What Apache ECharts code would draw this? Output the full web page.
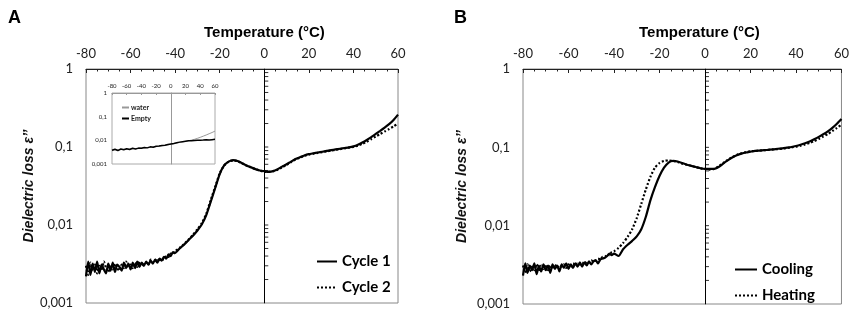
<!DOCTYPE html>
<html>
<head>
<meta charset="utf-8">
<script src="https://cdn.jsdelivr.net/npm/echarts@6/dist/echarts.min.js"></script>
<style>
  html, body { margin: 0; padding: 0; background: #fff; }
  #chart { width: 852px; height: 314px; }
</style>
</head>
<body>
<div id="chart"></div>
<script>
// temperature grid (°C) used by the main curves
var temps = [-80,-79,-78,-77,-76,-75,-74,-73,-72,-71,-70,-69,-68,-67,-66,-65,-64,-63,-62,-61,
  -60,-59,-58,-57,-56,-55,-54,-53,-52,-51,-50,-49,-48,-47,-46,-45,-44,-43,-42,-41,
  -40,-38,-36,-34,-32,-30,-28,-26,-24,-22,-20,-18,-16,-14,-12,-10,-8,-6,-4,-2,
  0,2,4,6,8,10,12,14,16,18,20,22,24,26,28,30,32,34,36,38,40,42,44,46,48,50,52,54,56,58,60];

// panel A
var cycle1 = [0.0022,0.0034,0.0023,0.0032,0.0025,0.0034,0.0024,0.0031,0.0027,0.0024,0.0032,0.0026,0.0033,0.0025,0.0031,0.0029,0.0026,0.0033,0.0028,0.0032,
  0.0027,0.0033,0.0028,0.0034,0.0029,0.0033,0.0030,0.0034,0.0031,0.0035,0.0032,0.0036,0.0033,0.0037,0.0035,0.0039,0.0037,0.0042,0.0040,0.0045,
  0.0044,0.0050,0.0056,0.0064,0.0073,0.0085,0.0102,0.0135,0.020,0.030,0.045,0.058,0.065,0.068,0.066,0.062,0.058,0.055,0.052,0.050,
  0.049,0.048,0.049,0.052,0.056,0.060,0.065,0.070,0.074,0.078,0.081,0.083,0.085,0.087,0.089,0.091,0.093,0.095,0.097,0.099,0.102,0.107,0.114,0.123,0.134,0.147,0.161,0.177,0.196,0.222,0.260];
var cycle2 = [0.0030,0.0023,0.0033,0.0026,0.0031,0.0024,0.0030,0.0026,0.0034,0.0028,0.0025,0.0031,0.0027,0.0032,0.0028,0.0026,0.0031,0.0028,0.0034,0.0029,
  0.0031,0.0028,0.0033,0.0029,0.0034,0.0030,0.0032,0.0033,0.0031,0.0036,0.0033,0.0035,0.0037,0.0034,0.0038,0.0036,0.0040,0.0039,0.0043,0.0042,
  0.0046,0.0051,0.0057,0.0065,0.0075,0.0088,0.0106,0.0140,0.021,0.031,0.046,0.058,0.065,0.067,0.066,0.062,0.058,0.055,0.052,0.050,
  0.048,0.048,0.049,0.051,0.055,0.059,0.064,0.069,0.073,0.077,0.080,0.082,0.084,0.086,0.088,0.090,0.092,0.094,0.096,0.098,0.100,0.104,0.110,0.117,0.126,0.136,0.147,0.158,0.170,0.184,0.200];

// panel B
var cooling = [0.0023,0.0033,0.0025,0.0031,0.0027,0.0033,0.0024,0.0031,0.0026,0.0032,0.0027,0.0031,0.0025,0.0032,0.0028,0.0031,0.0026,0.0032,0.0029,0.0033,
  0.0028,0.0032,0.0029,0.0033,0.0030,0.0034,0.0030,0.0034,0.0031,0.0035,0.0032,0.0035,0.0036,0.0033,0.0037,0.0038,0.0039,0.0041,0.0044,0.0042,
  0.0044,0.0041,0.0050,0.0057,0.0064,0.0073,0.0090,0.0130,0.021,0.031,0.043,0.055,0.064,0.067,0.066,0.063,0.060,0.058,0.056,0.054,
  0.053,0.053,0.053,0.056,0.062,0.068,0.074,0.079,0.083,0.086,0.088,0.090,0.091,0.092,0.093,0.094,0.096,0.097,0.099,0.101,0.104,0.108,0.113,0.119,0.127,0.136,0.147,0.160,0.177,0.200,0.230];
var heating = [0.0031,0.0025,0.0032,0.0026,0.0030,0.0027,0.0032,0.0026,0.0031,0.0028,0.0032,0.0027,0.0031,0.0028,0.0032,0.0029,0.0031,0.0030,0.0032,0.0029,
  0.0032,0.0030,0.0033,0.0031,0.0033,0.0032,0.0034,0.0032,0.0035,0.0034,0.0036,0.0035,0.0036,0.0038,0.0037,0.0040,0.0040,0.0043,0.0042,0.0046,
  0.0047,0.0052,0.0060,0.0072,0.0090,0.0125,0.019,0.029,0.042,0.055,0.063,0.067,0.068,0.067,0.065,0.062,0.060,0.058,0.056,0.054,
  0.053,0.052,0.053,0.057,0.063,0.069,0.075,0.080,0.084,0.087,0.089,0.090,0.091,0.092,0.093,0.094,0.095,0.096,0.098,0.100,0.102,0.105,0.109,0.114,0.120,0.128,0.137,0.148,0.161,0.177,0.195];

// inset (panel A)
var insetTemps = [-80,-76,-72,-68,-64,-60,-56,-52,-48,-44,-40,-36,-32,-28,-24,-20,-16,-12,-8,-4,0,4,8,12,16,20,24,28,32,36,40,44,48,52,56,60];
var insetEmpty = [0.0038,0.0042,0.0037,0.0043,0.0040,0.0044,0.0041,0.0046,0.0043,0.0047,0.0046,0.0050,0.0048,0.0053,0.0051,0.0056,0.0057,0.0060,0.0062,0.0066,
  0.0070,0.0074,0.0079,0.0084,0.0088,0.0092,0.0095,0.0097,0.0099,0.0101,0.0102,0.0103,0.0105,0.0104,0.0107,0.0110];
var insetWater = [0.0036,0.0040,0.0039,0.0041,0.0042,0.0042,0.0043,0.0044,0.0045,0.0045,0.0047,0.0048,0.0050,0.0051,0.0053,0.0054,0.0056,0.0059,0.0061,0.0064,
  0.0068,0.0072,0.0077,0.0082,0.0087,0.0091,0.0096,0.0102,0.0110,0.0121,0.0134,0.0150,0.0168,0.0190,0.0214,0.0245];

var xTicks = [-80, -60, -40, -20, 0, 20, 40, 60];
var yTickLabels = {'1': '1', '0.1': '0,1', '0.01': '0,01', '0.001': '0,001'};
var zeroTickVals = [0.002,0.003,0.004,0.005,0.006,0.007,0.008,0.009,0.01,
  0.02,0.03,0.04,0.05,0.06,0.07,0.08,0.09,0.1,0.2,0.3,0.4,0.5,0.6,0.7,0.8,0.9];

function pairs(xs, ys) {
  return xs.map(function (x, i) { return [x, ys[i]]; });
}
function yFmt(v) {
  var k = String(Math.round(v * 1000) / 1000);
  return yTickLabels[k] !== undefined ? yTickLabels[k] : '';
}

var FONT = 'Lato';

function xAxisOf(gi, small) {
  return {
    gridIndex: gi, type: 'value', position: 'top',
    min: -80, max: 60, interval: 20,
    axisLine: { lineStyle: { color: small ? '#999' : '#222', width: 1 } },
    axisTick: { show: true, inside: true, length: small ? 2 : 4, lineStyle: { color: small ? '#999' : '#222' } },
    minorTick: { show: true, splitNumber: 4, length: small ? 1 : 2.5, lineStyle: { color: small ? '#999' : '#222' } },
    splitLine: { show: false },
    axisLabel: {
      margin: small ? 4 : 9, fontFamily: FONT, fontSize: small ? 6 : 13, color: '#222',
      formatter: function (v) { return xTicks.indexOf(v) >= 0 ? String(v) : ''; }
    }
  };
}
function yAxisOf(gi, small) {
  return {
    gridIndex: gi, type: 'log', logBase: 10, min: 0.001, max: 1,
    axisLine: { show: true, lineStyle: { color: small ? '#999' : '#444', width: 1 } },
    axisTick: { show: false },
    splitLine: { show: false },
    axisLabel: {
      margin: small ? 5 : 13, fontFamily: FONT, fontSize: small ? 6 : 13, color: '#222',
      formatter: yFmt
    }
  };
}

function zeroTicks(gi) {
  return {
    type: 'custom', xAxisIndex: gi, yAxisIndex: gi, silent: true,
    data: zeroTickVals.map(function (v) { return [0, v]; }),
    renderItem: function (params, api) {
      var p = api.coord([0, api.value(1)]);
      return { type: 'line', shape: { x1: p[0], y1: p[1], x2: p[0] + 4, y2: p[1] },
        style: { stroke: '#333', lineWidth: 1 } };
    },
    z: 1
  };
}
function zeroLine(color, type) {
  return {
    silent: true, symbol: 'none', label: { show: false },
    lineStyle: { color: color, width: 1, type: type },
    data: [{ xAxis: 0 }]
  };
}

function curve(name, gi, data, dotted) {
  return {
    name: name, type: 'line', xAxisIndex: gi, yAxisIndex: gi,
    data: data, symbol: 'none', smooth: 0.2,
    lineStyle: { color: '#000', width: 2.2, type: dotted ? [2, 2] : 'solid' },
    itemStyle: { color: '#000' }
  };
}

var legendBase = {
  orient: 'vertical', itemWidth: 20, itemHeight: 14, itemGap: 11,
  itemStyle: { opacity: 0 },
  textStyle: { fontFamily: FONT, fontWeight: 'bold', fontSize: 15, color: '#000' }
};

var chart = echarts.init(document.getElementById('chart'), null, { renderer: 'canvas' });

chart.setOption({
  animation: false,
  backgroundColor: '#fff',
  grid: [
    { left: 86, top: 69, width: 312, height: 234, show: true, borderColor: '#888', borderWidth: 1 },
    { left: 523, top: 69, width: 324, height: 235, show: true, borderColor: '#888', borderWidth: 1 },
    { left: 112, top: 93, width: 103, height: 71, show: true, borderColor: '#aaa', borderWidth: 1, backgroundColor: '#fff', z: 5 }
  ],
  xAxis: [xAxisOf(0, false), xAxisOf(1, false), Object.assign(xAxisOf(2, true), { z: 6 })],
  yAxis: [
    Object.assign(yAxisOf(0, false), {
      name: 'Dielectric loss ε’’', nameLocation: 'middle', nameRotate: 90, nameGap: 47,
      nameTextStyle: { fontFamily: 'Liberation Sans', fontWeight: 'bold', fontStyle: 'italic', fontSize: 14, color: '#111' }
    }),
    Object.assign(yAxisOf(1, false), {
      name: 'Dielectric loss ε’’', nameLocation: 'middle', nameRotate: 90, nameGap: 54,
      nameTextStyle: { fontFamily: 'Liberation Sans', fontWeight: 'bold', fontStyle: 'italic', fontSize: 14, color: '#111' }
    }),
    Object.assign(yAxisOf(2, true), { z: 6 })
  ],
  legend: [
    Object.assign({}, legendBase, { data: ['Cycle 1', 'Cycle 2'], left: 311, top: 249 }),
    Object.assign({}, legendBase, { data: ['Cooling', 'Heating'], left: 729, top: 257, itemWidth: 22 }),
    { data: ['water', 'Empty'], left: 116, top: 99, orient: 'vertical', itemWidth: 7, itemHeight: 7, itemGap: 4, z: 7,
      itemStyle: { opacity: 0 },
      textStyle: { fontFamily: FONT, fontWeight: 'bold', fontSize: 7, color: '#222', padding: [0, 0, 0, -3] } }
  ],
  series: [
    Object.assign(curve('Cycle 1', 0, pairs(temps, cycle1), false), { markLine: zeroLine('#000', 'solid') }),
    curve('Cycle 2', 0, pairs(temps, cycle2), true),
    zeroTicks(0),
    Object.assign(curve('Cooling', 1, pairs(temps, cooling), false), { markLine: zeroLine('#000', 'solid') }),
    curve('Heating', 1, pairs(temps, heating), true),
    zeroTicks(1),
    { name: 'water', type: 'line', xAxisIndex: 2, yAxisIndex: 2, data: pairs(insetTemps, insetWater),
      symbol: 'none', lineStyle: { color: '#999', width: 1 }, itemStyle: { color: '#999' }, z: 7,
      markLine: zeroLine('#aaa', [1, 1]) },
    { name: 'Empty', type: 'line', xAxisIndex: 2, yAxisIndex: 2, data: pairs(insetTemps, insetEmpty),
      symbol: 'none', lineStyle: { color: '#000', width: 1.5 }, itemStyle: { color: '#000' }, z: 8 }
  ],
  graphic: [
    { type: 'text', left: 8, top: 9, style: { text: 'A', fontFamily: 'Liberation Sans', fontWeight: 'bold', fontSize: 18, fill: '#000' } },
    { type: 'text', left: 454, top: 9, style: { text: 'B', fontFamily: 'Liberation Sans', fontWeight: 'bold', fontSize: 18, fill: '#000' } },
    { type: 'text', left: 204, top: 25, style: { text: 'Temperature (°C)', fontFamily: 'Liberation Sans', fontWeight: 'bold', fontSize: 15, fill: '#000' } },
    { type: 'text', left: 639, top: 25, style: { text: 'Temperature (°C)', fontFamily: 'Liberation Sans', fontWeight: 'bold', fontSize: 15, fill: '#000' } }
  ]
});
</script>
</body>
</html>
